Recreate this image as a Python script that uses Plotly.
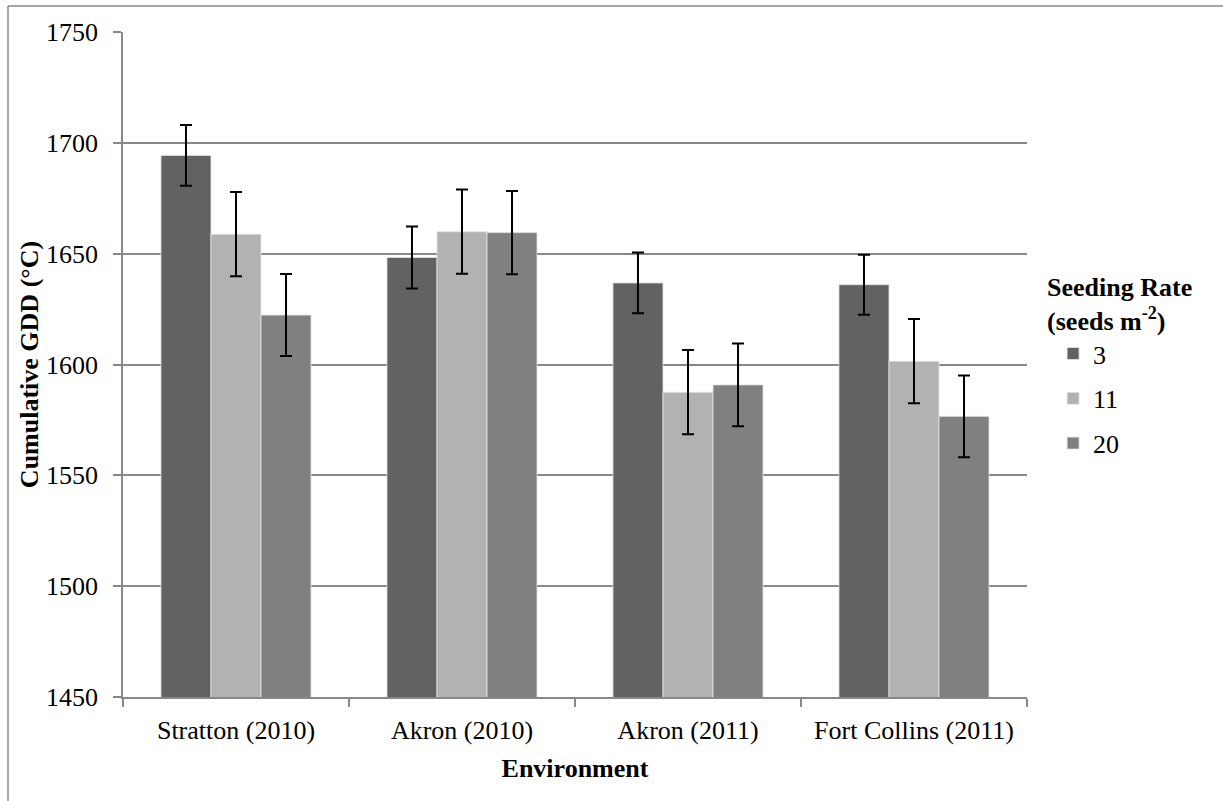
import plotly.graph_objects as go

categories = ["Stratton (2010)", "Akron (2010)", "Akron (2011)", "Fort Collins (2011)"]
series_names = ["3", "11", "20"]
gdd_rate3 = [1694.3, 1648.3, 1636.8, 1636.0]
gdd_rate11 = [1658.8, 1659.9, 1587.5, 1601.5]
gdd_rate20 = [1622.3, 1659.5, 1590.8, 1576.6]
se_rate3 = [13.7, 14.0, 13.7, 13.5]
se_rate11 = [19.0, 19.0, 19.0, 19.0]
se_rate20 = [18.5, 18.8, 18.7, 18.4]
y_ticks = [1450, 1500, 1550, 1600, 1650, 1700, 1750]

colors = ["#626262", "#b2b2b2", "#808080"]
FONT = "Liberation Serif, Times New Roman, DejaVu Serif, serif"
FS = 26
W, H = 1223, 801
ML, MR, MT, MB = 123, 196, 32, 104

fig = go.Figure()
for i, (name, vals, errs) in enumerate(zip(series_names,
                                           [gdd_rate3, gdd_rate11, gdd_rate20],
                                           [se_rate3, se_rate11, se_rate20])):
    fig.add_trace(go.Bar(
        x=categories, y=vals, name=name, legendgroup=name,
        marker=dict(color=colors[i], line=dict(color="rgba(230,230,230,0.8)", width=1)),
        error_y=dict(type="data", array=errs, visible=True, color="black",
                     thickness=2, width=6),
    ))

pw = W - ML - MR
ph = H - MT - MB
x0 = (8 - ML) / pw
y1 = (H - 6 - MB) / ph

fig.update_layout(
    width=W, height=H,
    margin=dict(l=ML, r=MR, t=MT, b=MB, pad=0),
    paper_bgcolor="white", plot_bgcolor="white",
    barmode="group", bargap=0.336, bargroupgap=0,
    font=dict(family=FONT, size=FS, color="black"),
    xaxis=dict(
        showline=True, linecolor="#888888", linewidth=1.5,
        ticks="outside", tickson="boundaries", ticklen=8, tickcolor="#888888", tickwidth=1.5,
        tickfont=dict(family=FONT, size=FS, color="black"),
        ticklabelstandoff=9,
        title=dict(text="<b>Environment</b>", font=dict(family=FONT, size=FS), standoff=15),
    ),
    yaxis=dict(
        range=[1450, 1750], tickvals=y_ticks,
        showline=True, linecolor="#888888", linewidth=1.5,
        showgrid=True, gridcolor="#888888", gridwidth=1.5,
        ticks="outside", ticklen=8, tickcolor="#888888", tickwidth=1.5,
        tickfont=dict(family=FONT, size=FS, color="black"),
        ticklabelstandoff=10,
        zeroline=False,
        title=dict(text="<b>Cumulative GDD (°C)</b>", font=dict(family=FONT, size=FS), standoff=0),
    ),
    legend=dict(
        x=1.02, xanchor="left", y=0.5, yanchor="middle",
        title=dict(text="<b>Seeding Rate<br>(seeds m<sup>-2</sup>)</b>", font=dict(family=FONT, size=FS)),
        font=dict(family=FONT, size=FS),
        traceorder="grouped", tracegroupgap=8,
        indentation=8,
        bgcolor="rgba(0,0,0,0)",
    ),
    shapes=[
        dict(type="line", xref="paper", yref="paper", x0=x0, x1=x0, y0=-2, y1=y1,
             line=dict(color="#888888", width=1.5)),
        dict(type="line", xref="paper", yref="paper", x0=x0, x1=3, y0=y1, y1=y1,
             line=dict(color="#888888", width=1.5)),
    ],
)

fig.write_html("out.html", config={"displayModeBar": False},
               post_script="document.body.style.margin='0';")
